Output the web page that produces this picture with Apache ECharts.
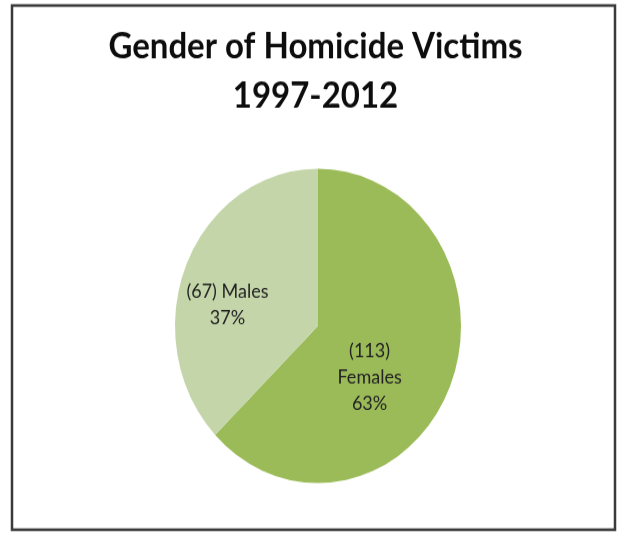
<!DOCTYPE html>
<html>
<head>
<meta charset="utf-8">
<script src="https://cdn.jsdelivr.net/npm/echarts@6/dist/echarts.min.js"></script>
<style>
  html, body { margin: 0; padding: 0; background: #fff; width: 631px; height: 533px; overflow: hidden; }
  #wrap { width: 631px; height: 533px; position: relative; overflow: hidden; }
  /* chart is laid out at 485px tall and stretched to fill the 533px window */
  #chart { position: absolute; left: 0; top: 0; width: 631px; height: 485px; transform: scaleY(1.099); transform-origin: 0 0; }
</style>
</head>
<body>
<div id="wrap"><div id="chart"></div></div>
<script>
const titleLines = ['Gender of Homicide Victims', '1997-2012'];
const categories = ['Females', 'Males'];
const victimCounts = [113, 67];
const sliceColors = ['#9BBB59', '#C4D6A9'];

// nudges that move each slice label toward where the label sits
const labelNudge = [[-17, 18], [-22, 10]];

const chart = echarts.init(document.getElementById('chart'), null, { renderer: 'canvas' });

chart.setOption({
  backgroundColor: '#fff',
  animation: false,
  title: {
    text: titleLines.join('\n'),
    left: 'center',
    top: 15,
    textStyle: {
      fontFamily: 'Lato',
      fontWeight: 'bold',
      fontSize: 33,
      lineHeight: 45,
      color: '#0d0d0d'
    }
  },
  graphic: [{
    type: 'rect',
    shape: { x: 12, y: 5, width: 603, height: 477 },
    style: { fill: 'none', stroke: '#3a3a3a', lineWidth: 2.5 },
    silent: true
  }],
  series: [{
    type: 'pie',
    center: [318, 296.5],
    radius: 143,
    startAngle: 90,
    clockwise: true,
    percentPrecision: 0,
    data: categories.map((c, i) => ({
      name: c,
      value: victimCounts[i],
      itemStyle: { color: sliceColors[i] }
    })),
    label: {
      position: 'inside',
      fontFamily: 'Lato',
      fontSize: 18,
      lineHeight: 24,
      color: '#222',
      align: 'center',
      formatter: p => '(' + p.value + ')' + (p.dataIndex === 0 ? '\n' : ' ') + p.name + '\n' + p.percent + '%'
    },
    labelLayout: p => ({ dx: labelNudge[p.dataIndex][0], dy: labelNudge[p.dataIndex][1] }),
    labelLine: { show: false },
    emphasis: { disabled: true }
  }]
});
</script>
</body>
</html>
